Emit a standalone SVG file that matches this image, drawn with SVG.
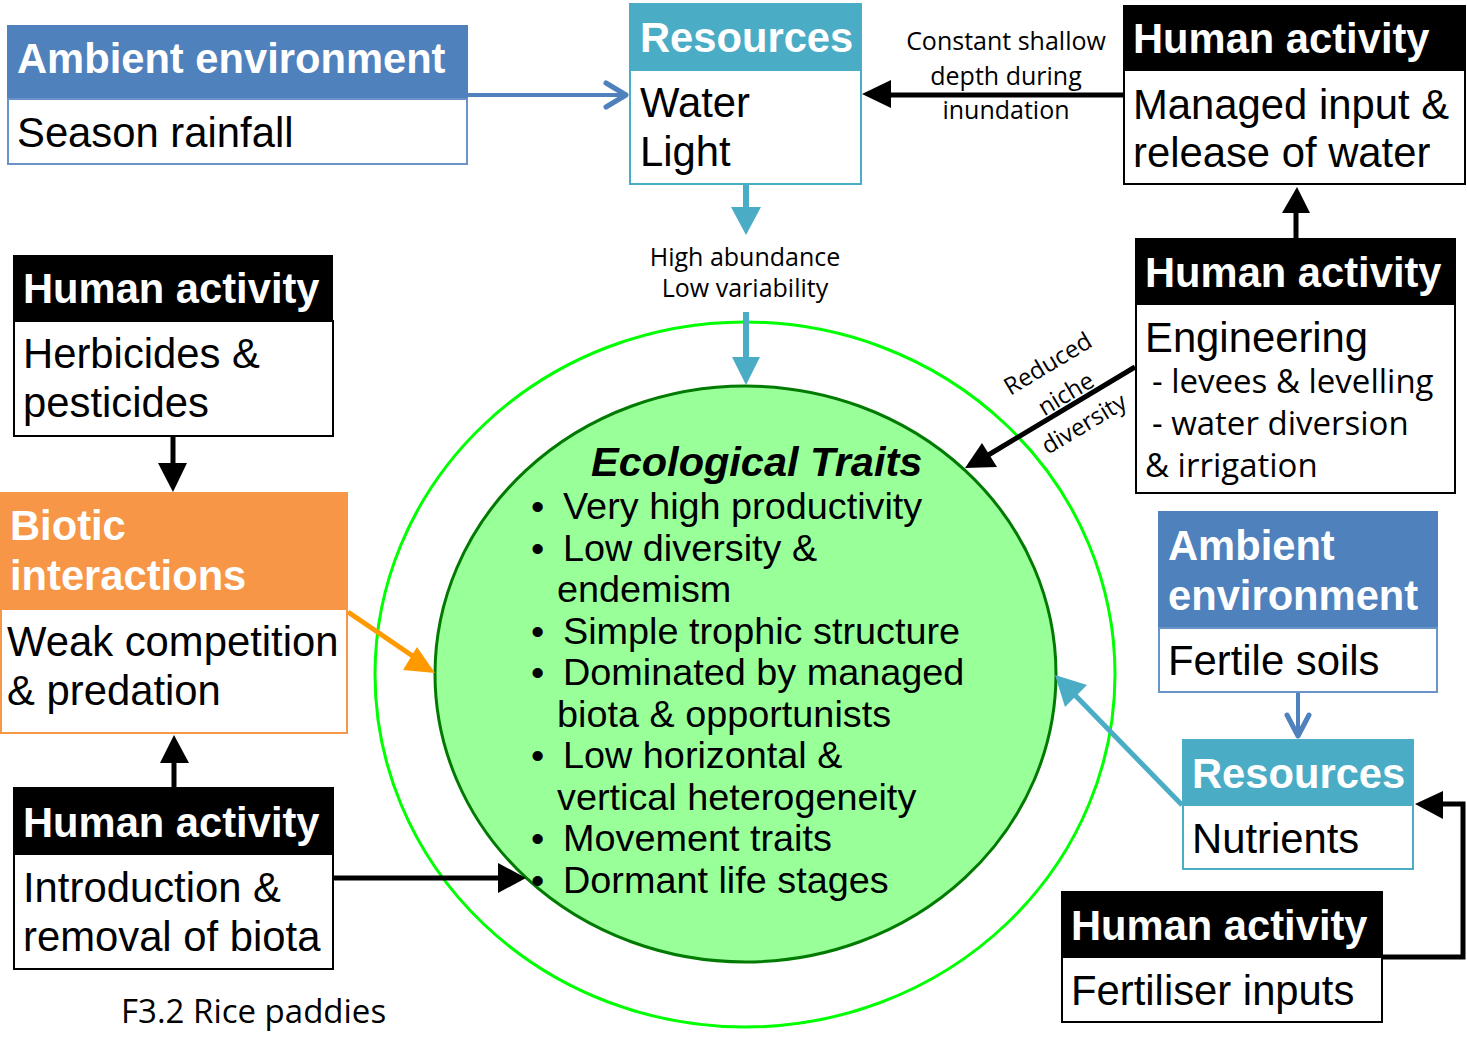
<svg xmlns="http://www.w3.org/2000/svg" width="1467" height="1057" viewBox="0 0 1467 1057">
<style>
.hd{font-family:"Liberation Sans",Arial,sans-serif;font-weight:bold;font-size:41.7px;fill:#fff}
.bd{font-family:"Liberation Sans",Arial,sans-serif;font-size:41.8px;fill:#000}
.tr{font-family:"Liberation Sans",Arial,sans-serif;font-size:37.8px;fill:#000}
.lb{font-family:"Open Sans","Noto Sans",sans-serif;fill:#000}
.hblk{fill:#000}
.bblk{fill:#fff;stroke:#000;stroke-width:2}
.hamb{fill:#4F81BD}
.bamb{fill:#fff;stroke:#6A94C8;stroke-width:2}
.hres{fill:#4BACC6}
.bres{fill:#fff;stroke:#4BACC6;stroke-width:2}
.hbio{fill:#F79646}
.bbio{fill:#fff;stroke:#F79646;stroke-width:2}
</style>
<rect width="1467" height="1057" fill="#fff"/>

<g id="traits">
<ellipse cx="745" cy="674.5" rx="370" ry="352.5" fill="none" stroke="#00FF00" stroke-width="3"/>
<ellipse cx="745.5" cy="674" rx="310.5" ry="288" fill="#99FF99" stroke="#007A00" stroke-width="3"/>
<text x="591" y="476" font-family="Liberation Sans,Arial,sans-serif" font-weight="bold" font-style="italic" font-size="41.5">Ecological Traits</text>
<g class="tr">
<text x="531" y="519">•</text><text x="563" y="519">Very high productivity</text>
<text x="531" y="560.5">•</text><text x="563" y="560.5">Low diversity &amp;</text>
<text x="557" y="602">endemism</text>
<text x="531" y="643.5">•</text><text x="563" y="643.5">Simple trophic structure</text>
<text x="531" y="685">•</text><text x="563" y="685">Dominated by managed</text>
<text x="557" y="726.5">biota &amp; opportunists</text>
<text x="531" y="768">•</text><text x="563" y="768">Low horizontal &amp;</text>
<text x="557" y="809.5">vertical heterogeneity</text>
<text x="531" y="851">•</text><text x="563" y="851">Movement traits</text>
<text x="531" y="892.5">•</text><text x="563" y="892.5">Dormant life stages</text>
</g>
</g>

<g id="connectors">
<line x1="468" y1="95" x2="625" y2="95" stroke="#4F81BD" stroke-width="4"/>
<polyline points="606,83 626,95 606,107" fill="none" stroke="#4F81BD" stroke-width="5" stroke-linecap="round" stroke-linejoin="round"/>
<line x1="1123" y1="95" x2="888" y2="95" stroke="#000" stroke-width="5"/>
<polygon points="862,94 891,80 891,108" fill="#000"/>
<line x1="746" y1="184" x2="746" y2="209" stroke="#4BACC6" stroke-width="6"/>
<polygon points="731,207 761,207 746,235" fill="#4BACC6"/>
<line x1="746" y1="312" x2="746" y2="360" stroke="#4BACC6" stroke-width="6"/>
<polygon points="732,357 760,357 746,385" fill="#4BACC6"/>
<line x1="1296" y1="238" x2="1296" y2="210" stroke="#000" stroke-width="5"/>
<polygon points="1297,187 1282,213 1310,213" fill="#000"/>
<line x1="1135" y1="367" x2="985" y2="457" stroke="#000" stroke-width="5"/>
<polygon points="965,468 982,443 997,467" fill="#000"/>
<line x1="173" y1="436" x2="173" y2="466" stroke="#000" stroke-width="5"/>
<polygon points="158,463 187,463 173,492" fill="#000"/>
<line x1="348" y1="612" x2="420" y2="661" stroke="#FF9900" stroke-width="5"/>
<polygon points="435,673 403,670 417,647" fill="#FF9900"/>
<line x1="174" y1="787" x2="174" y2="760" stroke="#000" stroke-width="5"/>
<polygon points="174,735 160,763 189,763" fill="#000"/>
<line x1="334" y1="878" x2="502" y2="878" stroke="#000" stroke-width="5"/>
<polygon points="526,878 498,863 498,893" fill="#000"/>
<line x1="1298" y1="692" x2="1298" y2="734" stroke="#4F81BD" stroke-width="4"/>
<polyline points="1287,715 1298,736 1309,715" fill="none" stroke="#4F81BD" stroke-width="5" stroke-linecap="round" stroke-linejoin="round"/>
<line x1="1182" y1="805" x2="1070" y2="690" stroke="#4BACC6" stroke-width="5"/>
<polygon points="1055,675 1065,707 1087,685" fill="#4BACC6"/>
<polyline points="1383,957 1463,957 1463,804 1440,804" fill="none" stroke="#000" stroke-width="5" stroke-linejoin="miter"/>
<polygon points="1415,804 1443,791 1443,819" fill="#000"/>
</g>

<g id="labels">
<g class="lb" font-size="25" text-anchor="middle">
<text x="1006" y="50">Constant shallow</text>
<text x="1006" y="85">depth during</text>
<text x="1006" y="119">inundation</text>
</g>
<g class="lb" font-size="25" text-anchor="middle">
<text x="745" y="266">High abundance</text>
<text x="745" y="297">Low variability</text>
</g>
<g class="lb" font-size="24" text-anchor="middle" transform="translate(1066,394) rotate(-31)">
<text x="0" y="-27">Reduced</text>
<text x="0" y="8">niche</text>
<text x="0" y="43">diversity</text>
</g>
<text class="lb" x="121" y="1023" font-size="33">F3.2 Rice paddies</text>
</g>

<g id="ambient-top">
<rect class="hamb" x="7" y="25" width="461" height="74"/>
<rect class="bamb" x="8" y="99" width="459" height="65"/>
<text class="hd" x="17" y="73">Ambient environment</text>
<text class="bd" x="17" y="147">Season rainfall</text>
</g>

<g id="resources-top">
<rect class="hres" x="629" y="3" width="233" height="67"/>
<rect class="bres" x="630" y="70" width="231" height="114"/>
<text class="hd" x="640" y="52">Resources</text>
<text class="bd" x="640" y="117">Water</text>
<text class="bd" x="640" y="166">Light</text>
</g>

<g id="human-water">
<rect class="hblk" x="1123" y="5" width="343" height="65"/>
<rect class="bblk" x="1124" y="70" width="341" height="114"/>
<text class="hd" x="1133" y="53">Human activity</text>
<text class="bd" x="1133" y="119">Managed input &amp;</text>
<text class="bd" x="1133" y="167">release of water</text>
</g>

<g id="human-engineering">
<rect class="hblk" x="1135" y="238" width="321" height="66"/>
<rect class="bblk" x="1136" y="304" width="319" height="189"/>
<text class="hd" x="1145" y="287">Human activity</text>
<text class="bd" x="1145" y="352">Engineering</text>
<text class="lb" x="1152" y="393" font-size="33">- levees &amp; levelling</text>
<text class="lb" x="1152" y="435" font-size="33">- water diversion</text>
<text class="lb" x="1145" y="477" font-size="33">&amp; irrigation</text>
</g>

<g id="human-herbicides">
<rect class="hblk" x="13" y="255" width="320" height="66"/>
<rect class="bblk" x="14" y="321" width="319" height="115"/>
<text class="hd" x="23" y="303">Human activity</text>
<text class="bd" x="23" y="368">Herbicides &amp;</text>
<text class="bd" x="23" y="417">pesticides</text>
</g>

<g id="biotic">
<rect class="hbio" x="0" y="492" width="348" height="117"/>
<rect class="bbio" x="1" y="609" width="346" height="124"/>
<text class="hd" x="10" y="540">Biotic</text>
<text class="hd" x="10" y="590">interactions</text>
<text class="bd" x="7" y="656">Weak competition</text>
<text class="bd" x="7" y="705">&amp; predation</text>
</g>

<g id="human-introduction">
<rect class="hblk" x="13" y="787" width="321" height="67"/>
<rect class="bblk" x="14" y="854" width="319" height="115"/>
<text class="hd" x="23" y="837">Human activity</text>
<text class="bd" x="23" y="902">Introduction &amp;</text>
<text class="bd" x="23" y="951">removal of biota</text>
</g>

<g id="ambient-right">
<rect class="hamb" x="1158" y="511" width="280" height="117"/>
<rect class="bamb" x="1159" y="628" width="278" height="64"/>
<text class="hd" x="1168" y="560">Ambient</text>
<text class="hd" x="1168" y="610">environment</text>
<text class="bd" x="1168" y="675">Fertile soils</text>
</g>

<g id="resources-right">
<rect class="hres" x="1182" y="739" width="232" height="66"/>
<rect class="bres" x="1183" y="805" width="230" height="64"/>
<text class="hd" x="1192" y="788">Resources</text>
<text class="bd" x="1192" y="853">Nutrients</text>
</g>

<g id="human-fertiliser">
<rect class="hblk" x="1061" y="891" width="322" height="66"/>
<rect class="bblk" x="1062" y="957" width="320" height="65"/>
<text class="hd" x="1071" y="940">Human activity</text>
<text class="bd" x="1071" y="1005">Fertiliser inputs</text>
</g>
</svg>
